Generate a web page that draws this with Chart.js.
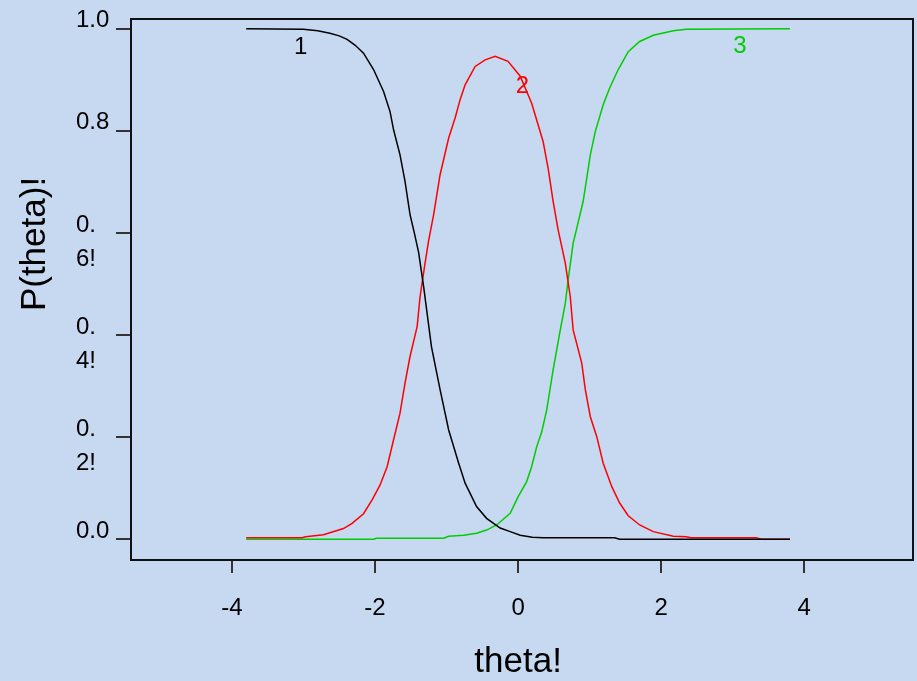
<!DOCTYPE html>
<html>
<head>
<meta charset="utf-8">
<script src="https://cdn.jsdelivr.net/npm/chart.js@4/dist/chart.umd.min.js"></script>
<style>
  html, body { margin: 0; padding: 0; background: #c6d9f1; }
  #wrap { width: 917px; height: 681px; }
</style>
</head>
<body>
<div id="wrap"><canvas id="c" width="917" height="681"></canvas></div>
<script>
// ---- data ----
const theta1 = [-3.8,-3.0,-2.8,-2.63,-2.5,-2.39,-2.28,-2.16,-2.02,-1.88,-1.79,-1.74,-1.65,-1.58,-1.51,-1.45,-1.39,-1.32,-1.21,-1.09,-0.97,-0.83,-0.74,-0.58,-0.44,-0.25,-0.11,0.03,0.2,0.35,1.35,1.42,3.8];
const p1 = [1.0,0.999,0.996,0.991,0.986,0.979,0.968,0.952,0.920,0.877,0.838,0.802,0.753,0.701,0.636,0.600,0.562,0.495,0.377,0.293,0.214,0.149,0.110,0.064,0.041,0.022,0.015,0.008,0.004,0.003,0.003,0.0,0.0];

const theta2 = [-3.8,-3.02,-2.97,-2.72,-2.44,-2.32,-2.16,-2.04,-1.93,-1.83,-1.74,-1.65,-1.58,-1.51,-1.41,-1.37,-1.30,-1.25,-1.18,-1.09,-0.97,-0.88,-0.81,-0.74,-0.60,-0.46,-0.32,-0.14,0.03,0.19,0.35,0.42,0.49,0.56,0.66,0.73,0.77,0.89,0.94,1.01,1.10,1.19,1.31,1.42,1.54,1.70,1.89,2.17,2.35,2.42,3.33,3.40,3.8];
const p2 = [0.003,0.003,0.005,0.009,0.021,0.031,0.050,0.077,0.106,0.142,0.195,0.247,0.306,0.358,0.417,0.475,0.541,0.585,0.636,0.714,0.786,0.825,0.861,0.890,0.926,0.939,0.946,0.936,0.907,0.854,0.779,0.727,0.662,0.606,0.541,0.475,0.410,0.345,0.293,0.240,0.201,0.149,0.103,0.071,0.046,0.028,0.015,0.006,0.005,0.003,0.003,0.0,0.0];

const theta3 = [-3.8,-2.02,-1.98,-1.04,-0.97,-0.76,-0.58,-0.44,-0.30,-0.11,0.0,0.12,0.19,0.26,0.33,0.40,0.49,0.59,0.66,0.70,0.77,0.82,0.91,1.01,1.08,1.19,1.28,1.40,1.54,1.70,1.89,2.17,2.35,3.8];
const p3 = [0.0,0.0,0.002,0.002,0.006,0.008,0.012,0.018,0.028,0.051,0.083,0.113,0.142,0.181,0.210,0.253,0.332,0.410,0.462,0.508,0.580,0.609,0.662,0.753,0.799,0.851,0.884,0.920,0.955,0.975,0.987,0.996,0.999,1.0];

const curveLabels = ['1', '2', '3'];
const curveLabelTheta = [-3.04, 0.06, 3.10];
const curveLabelP = [0.963, 0.888, 0.965];

const xTickValues = [-4, -2, 0, 2, 4];
const xTickLabels = ['-4', '-2', '0', '2', '4'];
const yTickValues = [0, 0.2, 0.4, 0.6, 0.8, 1.0];
const yTickLabels = [['0.0', ''], ['0.', '2!'], ['0.', '4!'], ['0.', '6!'], ['0.8', ''], ['1.0', '']];

const xTitle = 'theta!';
const yTitle = 'P(theta)!';

// ---- styles ----
const BG = '#c6d9f1';
const colors = ['#000000', '#ff0000', '#00cc00'];
const FONT = '"Liberation Sans", Arial, sans-serif';

function pts(xs, ys) { return xs.map((x, i) => ({ x: x, y: ys[i] })); }

const bgPlugin = {
  id: 'bg',
  beforeDraw(chart) {
    const ctx = chart.ctx;
    ctx.save();
    ctx.fillStyle = BG;
    ctx.fillRect(0, 0, chart.width, chart.height);
    ctx.restore();
  }
};

const boxPlugin = {
  id: 'box',
  afterDraw(chart) {
    const a = chart.chartArea, ctx = chart.ctx;
    ctx.save();
    ctx.strokeStyle = '#111';
    ctx.lineWidth = 2;
    ctx.strokeRect(a.left, a.top, a.right - a.left, a.bottom - a.top);
    // curve labels
    ctx.font = '24px ' + FONT;
    ctx.textAlign = 'center';
    ctx.textBaseline = 'middle';
    const xs = chart.scales.x, ys = chart.scales.y;
    curveLabels.forEach((t, i) => {
      ctx.fillStyle = colors[i];
      ctx.fillText(t, xs.getPixelForValue(curveLabelTheta[i]), ys.getPixelForValue(curveLabelP[i]));
    });
    // axis titles
    ctx.fillStyle = '#000';
    ctx.font = '35px ' + FONT;
    ctx.fillText(xTitle, xs.getPixelForValue(0), 662);
    ctx.translate(35, 244);
    ctx.rotate(-Math.PI / 2);
    ctx.fillText(yTitle, 0, 0);
    ctx.restore();
  }
};

new Chart(document.getElementById('c'), {
  type: 'line',
  data: {
    datasets: [
      { data: pts(theta1, p1), borderColor: colors[0] },
      { data: pts(theta2, p2), borderColor: colors[1] },
      { data: pts(theta3, p3), borderColor: colors[2] }
    ]
  },
  options: {
    responsive: false,
    animation: false,
    devicePixelRatio: 1,
    layout: { padding: { left: 76, top: 19, right: 4, bottom: 0 } },
    elements: {
      line: { borderWidth: 1.5, tension: 0, fill: false },
      point: { radius: 0 }
    },
    plugins: { legend: { display: false }, tooltip: { enabled: false } },
    scales: {
      x: {
        type: 'linear',
        min: -5.41, max: 5.52,
        afterBuildTicks(s) { s.ticks = xTickValues.map(v => ({ value: v })); },
        afterFit(s) { s.height = 121; s.paddingLeft = 0; s.paddingRight = 0; },
        grid: { display: true, drawOnChartArea: false, drawTicks: true, tickLength: 13, color: '#333', lineWidth: 2 },
        border: { display: false },
        ticks: {
          padding: 21,
          color: '#000',
          font: { family: FONT, size: 24, lineHeight: 1.2 },
          maxRotation: 0,
          autoSkip: false,
          callback(v) { const i = xTickValues.indexOf(v); return i >= 0 ? xTickLabels[i] : ''; }
        },
        title: { display: false }
      },
      y: {
        type: 'linear',
        min: -0.0406, max: 1.019,
        afterBuildTicks(s) { s.ticks = yTickValues.map(v => ({ value: v })); },
        afterFit(s) { s.width = 55; s.paddingTop = 0; s.paddingBottom = 0; },
        grid: { display: true, drawOnChartArea: false, drawTicks: true, tickLength: 15, color: '#333', lineWidth: 2 },
        border: { display: false },
        ticks: {
          padding: 5,
          crossAlign: 'far',
          labelOffset: 9,
          color: '#000',
          font: { family: FONT, size: 24, lineHeight: '34px' },
          autoSkip: false,
          callback(v) {
            const i = yTickValues.findIndex(t => Math.abs(t - v) < 1e-9);
            return i >= 0 ? yTickLabels[i] : '';
          }
        }
      }
    }
  },
  plugins: [bgPlugin, boxPlugin]
});
</script>
</body>
</html>
